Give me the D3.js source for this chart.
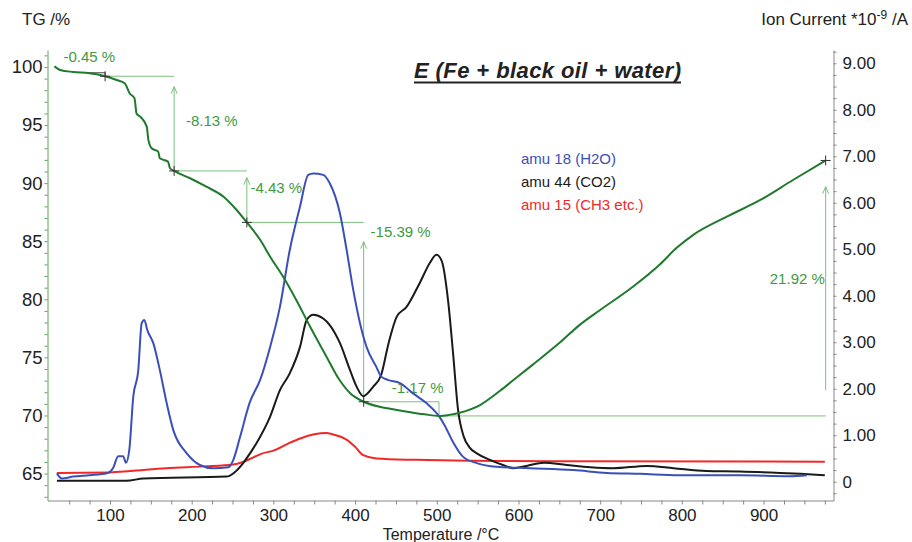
<!DOCTYPE html>
<html>
<head>
<meta charset="utf-8">
<script src="https://cdn.jsdelivr.net/npm/d3@7"></script>
<style>
  body { margin: 0; background: #fff; }
  svg { display: block; font-family: "Liberation Sans", Arial, sans-serif; }
</style>
</head>
<body>
<svg id="chart"></svg>
<script>
const width = 912;
const height = 542;

// TG curve: temperature (°C) and mass (%)
const tgTemp = [32, 39, 55, 75, 94, 108, 118, 124, 130, 132.5, 137, 145, 147, 151, 159, 161, 171, 173.5, 178.5, 198,
  218, 239, 255, 267.5, 284, 296, 312, 328, 345, 365, 381, 394, 410.5, 430, 443, 471, 485, 502.7, 515, 528,
  553, 577, 600, 618, 651, 675, 700, 740, 773, 794, 814, 855, 896, 936, 976];
const tgMass = [100.05, 99.74, 99.57, 99.46, 99.2, 98.88, 98.6, 97.74, 97.3, 96.0, 95.72, 94.86, 93.72, 93.0, 92.71, 92.14, 91.85, 91.28, 91.05, 90.42,
  89.69, 88.83, 87.69, 86.62, 85.1, 83.67, 81.94, 79.94, 77.64, 75.06, 73.05, 71.91, 71.18, 70.75, 70.58, 70.24, 70.1, 69.96, 70.05, 70.24,
  70.9, 72.1, 73.4, 74.4, 76.3, 77.8, 79.08, 81.08, 83.0, 84.45, 85.55, 87.11, 88.55, 90.27, 91.95];

// ion currents (*10^-9 A)
const h2oTemp = [35, 41, 55, 75, 96, 104, 110, 116, 119.6, 123.6, 128.5, 134.6, 138.8, 142, 145.7, 153, 161, 169.4, 177.5, 194,
  210, 226, 245, 251, 259, 271, 284, 296, 308, 320, 332.6, 342.7, 348.8, 361, 369, 381.5, 389.7, 397.8, 406, 414,
  426, 432, 440, 455, 471, 488, 502.7, 510, 520, 532, 549, 573, 614, 667, 708, 749, 796, 871, 932, 953];
const h2oIon = [0.18, 0.07, 0.11, 0.14, 0.18, 0.3, 0.55, 0.55, 0.41, 0.68, 1.83, 2.40, 3.41, 3.48, 3.26, 2.98, 2.40, 1.69, 1.11, 0.61,
  0.36, 0.29, 0.31, 0.47, 0.95, 1.7, 2.2, 2.9, 3.76, 4.98, 5.92, 6.60, 6.63, 6.60, 6.42, 5.77, 4.98, 4.12, 3.41, 2.90,
  2.47, 2.26, 2.19, 2.12, 1.90, 1.68, 1.41, 1.2, 0.85, 0.54, 0.40, 0.32, 0.29, 0.25, 0.19, 0.17, 0.14, 0.14, 0.12, 0.14];

const co2Temp = [35, 120, 141, 243, 251, 263, 271, 280, 296, 308, 320, 332.6, 340.8, 348.8, 361, 369, 381.5, 393.8, 402, 410,
  422, 432, 441, 451, 463, 479, 492, 499.5, 506, 514, 520, 526, 533, 540, 549, 565, 581, 594, 610, 631,
  659, 688, 716, 757, 790, 830, 871, 920, 945, 975];
const co2Ion = [0.02, 0.02, 0.07, 0.11, 0.18, 0.40, 0.6, 0.85, 1.4, 1.97, 2.33, 2.9, 3.48, 3.59, 3.51, 3.37, 2.98, 2.40, 2.04, 1.84,
  2.04, 2.3, 2.98, 3.55, 3.76, 4.27, 4.72, 4.88, 4.75, 3.87, 2.75, 1.55, 0.97, 0.74, 0.61, 0.47, 0.36, 0.29, 0.34, 0.41,
  0.36, 0.31, 0.29, 0.34, 0.29, 0.23, 0.22, 0.19, 0.17, 0.14];

const ch3Temp = [35, 100, 125, 169, 215, 251, 262, 275, 285, 300, 318, 333, 350, 365, 372, 390, 400, 410, 426, 475, 540, 650, 975];
const ch3Ion = [0.19, 0.2, 0.23, 0.29, 0.33, 0.37, 0.42, 0.52, 0.6, 0.67, 0.82, 0.93, 1.02, 1.05, 1.02, 0.9, 0.75, 0.57, 0.5, 0.47, 0.45, 0.44, 0.43];

// step evaluation marks on the TG curve
const markTemp = [94, 178.5, 267.5, 410.5, 976];
const markMass = [99.2, 91.05, 86.62, 71.18, 91.95];
const stepFromT = [94, 178.5, 267.5, 410.5, 502.7];
const stepToT = [178.5, 267.5, 410.5, 502.7, 976];
const stepLevel = [99.2, 91.05, 86.62, 71.18, 69.96];
const arrowBase = [91.05, 86.62, 71.18, 69.96, 72.19];
const arrowTip = [98.3, 90.47, 84.96, 71.18, 89.69];
const stepLabels = ["-0.45 %", "-8.13 %", "-4.43 %", "-15.39 %", "-1.17 %", "21.92 %"];
const labelTemp = [43, 193, 272, 419, 445, 975];
const labelMass = [100.43, 94.92, 89.15, 85.34, 71.97, 81.29];

const legendNames = ["amu 18 (H2O)", "amu 44 (CO2)", "amu 15 (CH3 etc.)"];
const legendColors = ["#3b4fb8", "#1a1a1a", "#f02828"];

const tempTicks = d3.range(50, 976, 25);
const tgTicks = d3.range(63, 102, 1);
const ionTicks = d3.range(-1, 38).map(i => i * 0.25);

const svg = d3.select("#chart")
    .attr("width", width)
    .attr("height", height);

const x = d3.scaleLinear().domain([23.5, 985.6]).range([47.5, 833.5]);
const yTG = d3.scaleLinear().domain([62.68, 101.46]).range([500.5, 50]);
const yIon = d3.scaleLinear().domain([-0.404, 9.286]).range([500.5, 50]);

const tgGreen = "#1f7a2e";
const noteGreen = "#7cbf7c";
const labelGreen = "#3f9a3f";

// axes
const bottom = svg.append("g")
    .attr("transform", `translate(0,${yTG.range()[0]})`)
    .call(d3.axisBottom(x).tickValues(tempTicks).tickSize(4).tickSizeOuter(0)
        .tickFormat(d => d % 100 === 0 ? d : ""));
bottom.select(".domain").attr("stroke", "#888");
bottom.selectAll(".tick line").attr("stroke", "#888");
bottom.selectAll(".tick text").attr("fill", "#222").style("font-size", "17px").attr("dy", "0.8em");

const left = svg.append("g")
    .attr("transform", `translate(${x.range()[0]},0)`)
    .call(d3.axisLeft(yTG).tickValues(tgTicks).tickSize(3).tickSizeOuter(0)
        .tickFormat(d => d % 5 === 0 ? d : ""));
left.select(".domain").attr("stroke", "#5aa55a");
left.selectAll(".tick line").attr("stroke", "#5aa55a");
left.selectAll(".tick text").attr("fill", "#222").style("font-size", "18.5px").attr("x", -5);

const right = svg.append("g")
    .attr("transform", `translate(${x.range()[1]},0)`)
    .call(d3.axisRight(yIon).tickValues(ionTicks).tickSize(3).tickSizeOuter(0)
        .tickFormat(d => Math.abs(d - Math.round(d)) < 1e-9 && d >= 0 ? (d === 0 ? "0" : d.toFixed(2)) : ""));
right.select(".domain").attr("stroke", "#888");
right.selectAll(".tick line").attr("stroke", "#888");
right.selectAll(".tick text").attr("fill", "#222").style("font-size", "17px").attr("x", 9);

// axis titles
svg.append("text").attr("x", 22).attr("y", 25)
    .style("font-size", "17px").attr("fill", "#222").text("TG /%");

const ionTitle = svg.append("text").attr("x", 908).attr("y", 25)
    .attr("text-anchor", "end").style("font-size", "17px").attr("fill", "#222");
ionTitle.append("tspan").text("Ion Current *10");
ionTitle.append("tspan").attr("dy", -6).style("font-size", "12px").text("-9");
ionTitle.append("tspan").attr("dy", 6).text(" /A");

svg.append("text").attr("x", 441).attr("y", 539.5)
    .attr("text-anchor", "middle").style("font-size", "16px").attr("fill", "#222")
    .text("Temperature /°C");

// title
svg.append("text").attr("x", 414).attr("y", 78)
    .style("font-size", "22px").style("font-weight", "bold").style("font-style", "italic")
    .attr("fill", "#222").attr("textLength", 267)
    .text("E (Fe + black oil + water)");
svg.append("line").attr("x1", 414).attr("x2", 681).attr("y1", 82.5).attr("y2", 82.5)
    .attr("stroke", "#222").attr("stroke-width", 2);

// step annotations
const notes = svg.append("g").attr("fill", "none").attr("stroke", noteGreen).attr("stroke-width", 1);
stepLevel.forEach((lv, i) => {
    notes.append("line")
        .attr("x1", x(stepFromT[i])).attr("x2", x(stepToT[i]))
        .attr("y1", yTG(lv)).attr("y2", yTG(lv));
    const ax = x(stepToT[i]);
    notes.append("line")
        .attr("x1", ax).attr("x2", ax)
        .attr("y1", yTG(arrowBase[i])).attr("y2", yTG(arrowTip[i]));
    if (arrowTip[i] > arrowBase[i] + 2) {
        const ty = yTG(arrowTip[i]);
        notes.append("path").attr("d", `M${ax - 3},${ty + 7}L${ax},${ty}L${ax + 3},${ty + 7}`);
    }
});

// onset of first step
svg.append("path")
    .attr("d", `M${x(71.5)},${yTG(99.5)}H${x(markTemp[0])}V${yTG(markMass[0])}`)
    .attr("fill", "none").attr("stroke", "#444").attr("stroke-width", 1);

svg.append("g").selectAll("text")
    .data(stepLabels)
    .join("text")
    .attr("x", (d, i) => x(labelTemp[i]))
    .attr("y", (d, i) => yTG(labelMass[i]))
    .attr("text-anchor", (d, i) => i === stepLabels.length - 1 ? "end" : "start")
    .style("font-size", "15px")
    .attr("fill", labelGreen)
    .text(d => d);

// curves
const ionLine = d3.line().x(d => x(d[0])).y(d => yIon(d[1])).curve(d3.curveMonotoneX);
const tgLine = d3.line().x(d => x(d[0])).y(d => yTG(d[1])).curve(d3.curveMonotoneX);

const series = [
    { t: ch3Temp, v: ch3Ion, color: legendColors[2] },
    { t: co2Temp, v: co2Ion, color: legendColors[1] },
    { t: h2oTemp, v: h2oIon, color: legendColors[0] }
];
series.forEach(s => {
    svg.append("path")
        .datum(s.t.map((t, i) => [t, s.v[i]]))
        .attr("d", ionLine)
        .attr("fill", "none")
        .attr("stroke", s.color)
        .attr("stroke-width", 2);
});

svg.append("path")
    .datum(tgTemp.map((t, i) => [t, tgMass[i]]))
    .attr("d", tgLine)
    .attr("fill", "none")
    .attr("stroke", tgGreen)
    .attr("stroke-width", 2);

// crosses on the marks
svg.append("g").selectAll("path")
    .data(markTemp)
    .join("path")
    .attr("d", (d, i) => {
        const cx = x(d), cy = yTG(markMass[i]);
        return `M${cx - 5},${cy}H${cx + 5}M${cx},${cy - 5}V${cy + 5}`;
    })
    .attr("stroke", "#333")
    .attr("stroke-width", 1);

// legend
svg.append("g").selectAll("text")
    .data(legendNames)
    .join("text")
    .attr("x", 521)
    .attr("y", (d, i) => 164 + i * 23)
    .style("font-size", "15px")
    .attr("fill", (d, i) => legendColors[i])
    .text(d => d);
</script>
</body>
</html>
